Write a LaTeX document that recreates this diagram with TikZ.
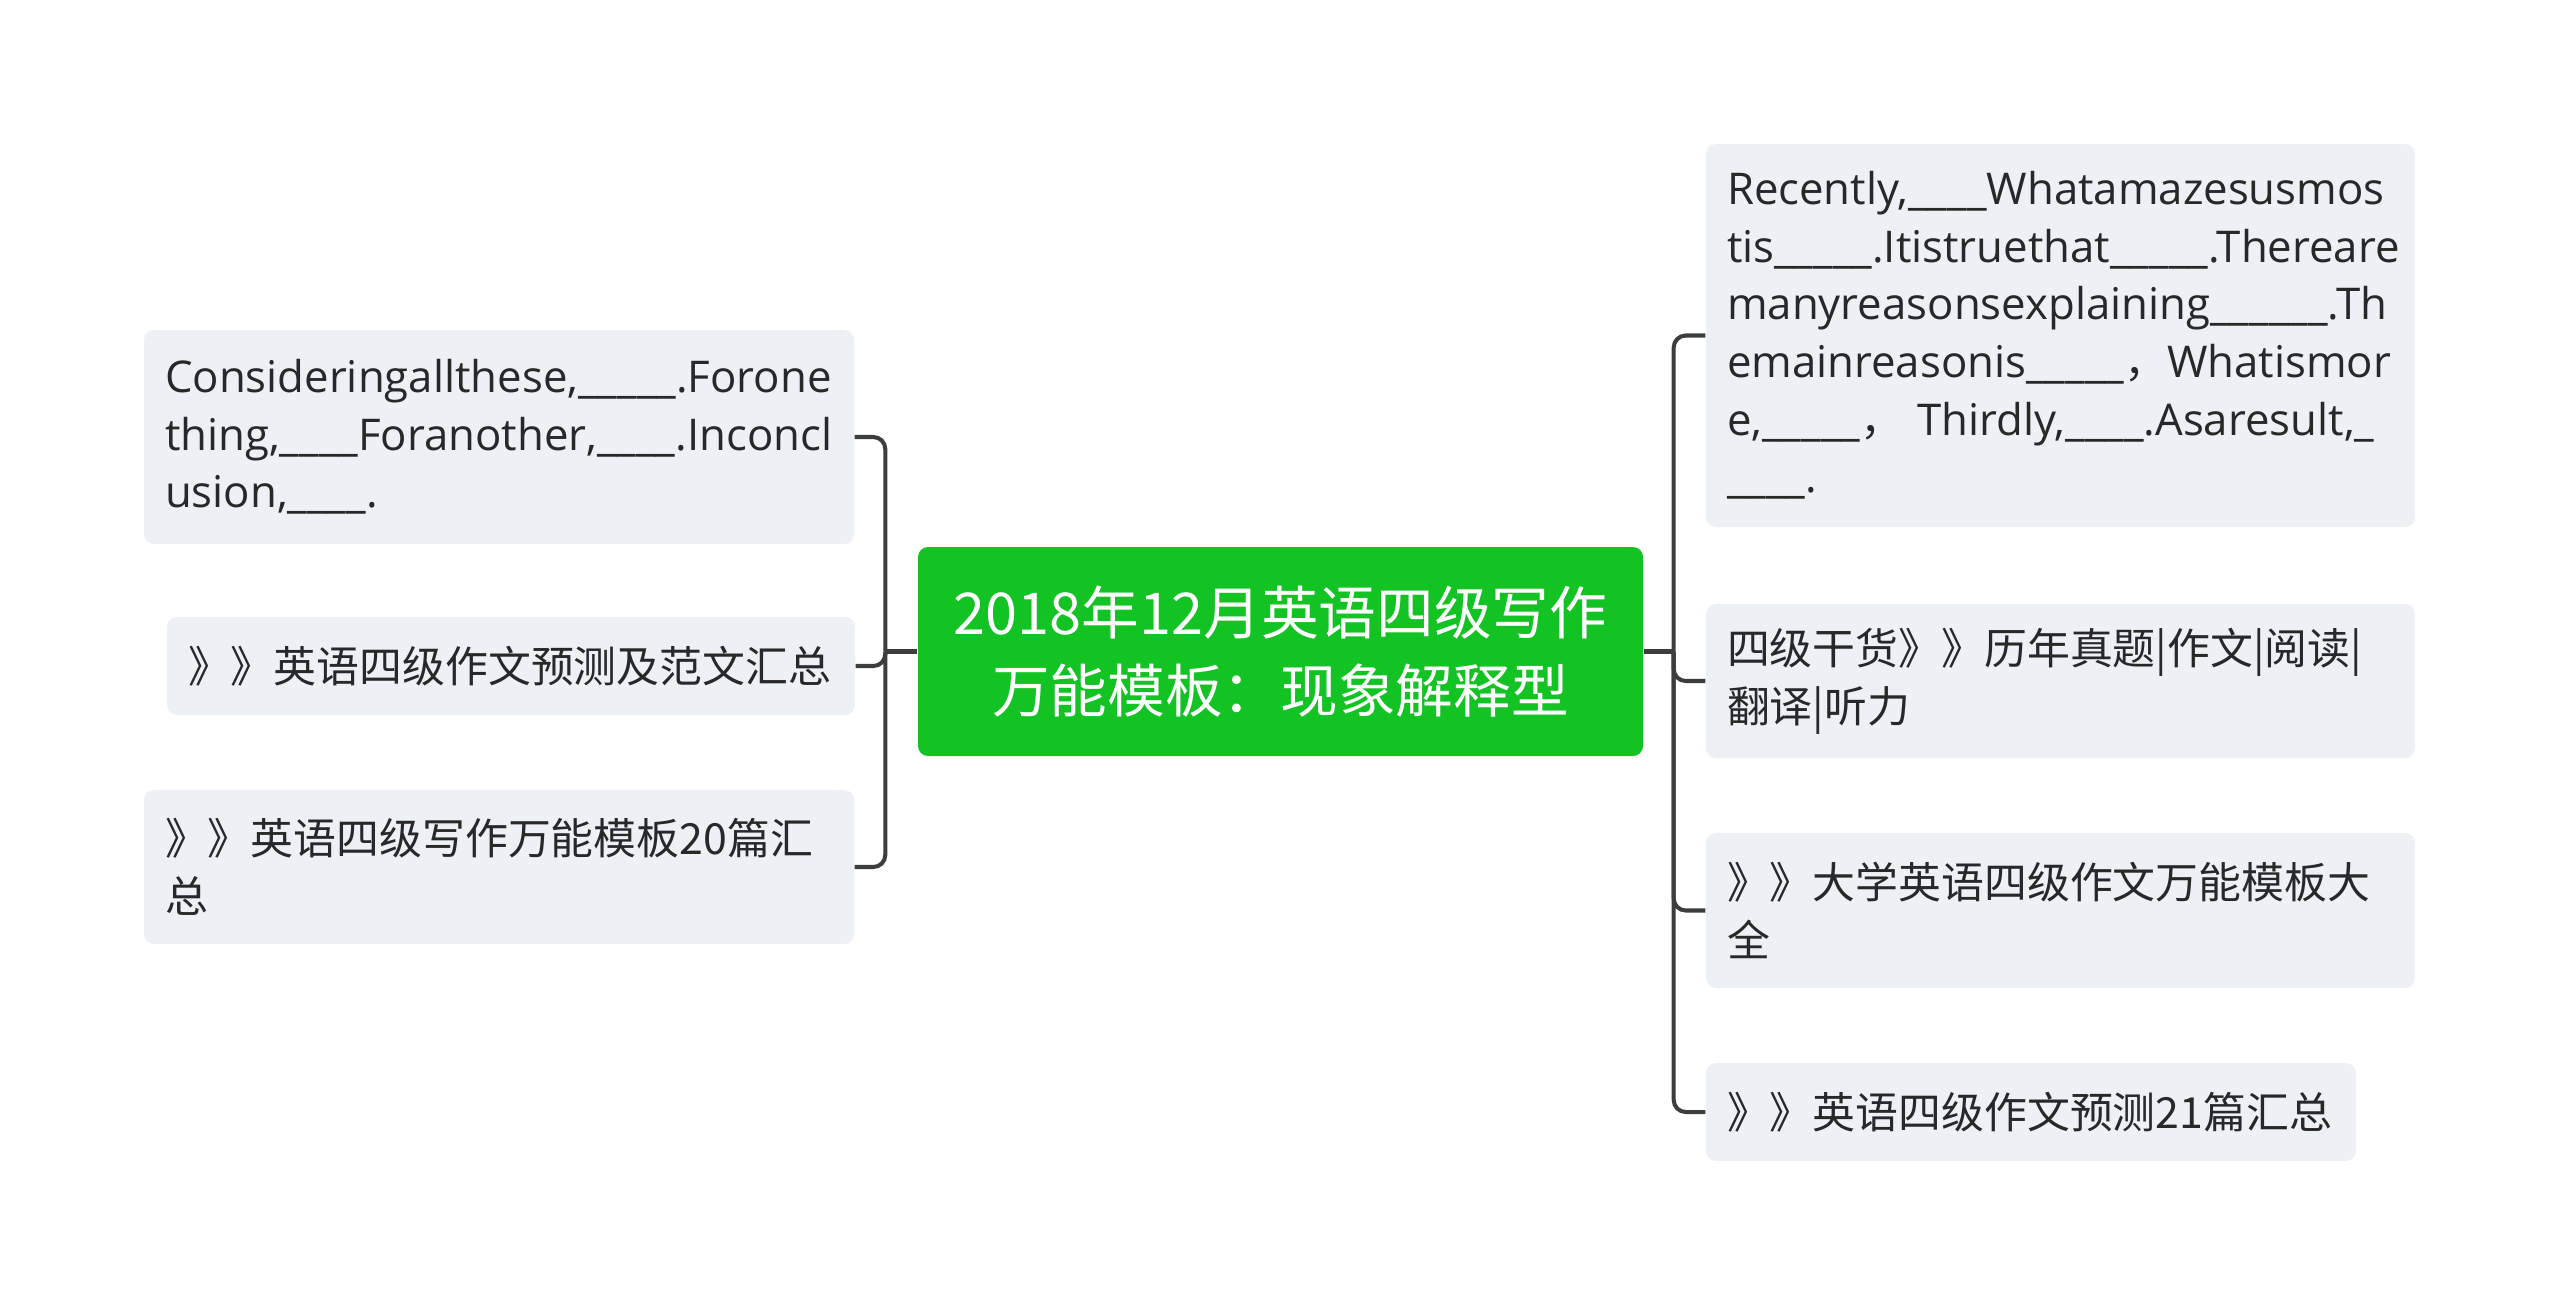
\documentclass[tikz,border=0pt]{standalone}
\usepackage{fontspec}
\setmainfont{Noto Sans CJK SC}
\newfontfamily\latin[Scale=1.02]{Open Sans}
\usetikzlibrary{positioning}

\definecolor{topicgreen}{RGB}{19,194,35}
\definecolor{leafgray}{RGB}{237,240,244}
\definecolor{linkgray}{RGB}{60,62,60}
\definecolor{textgray}{RGB}{40,40,40}

\begin{document}
\begin{tikzpicture}[x=1cm, y=-1cm,
    leaf/.style={fill=leafgray, rounded corners=0.1cm, inner xsep=0.21cm, inner ysep=0pt,
        align=left, text=textgray, font=\fontsize{12.2}{16.4}\selectfont},
    topic/.style={fill=topicgreen, rounded corners=0.1cm, align=center, text=white,
        minimum width=7.25cm, minimum height=2.09cm, font=\fontsize{16.4}{22.2}\selectfont},
    link/.style={draw=linkgray, line width=1.15pt, rounded corners=0.12cm}]
    \useasboundingbox (0,0) rectangle (25.6,13.04);

    % central topic
    \node[topic] (ctr) at (12.805,6.515) {2018年12月英语四级写作\\万能模板：现象解释型};

    % left branch
    \node[leaf, text width=6.68cm, minimum height=2.14cm] (l1) at (4.99,4.37)
        {{\latin Consideringallthese,\_\_\_\_\_.Forone}\\{\latin thing,\_\_\_\_Foranother,\_\_\_\_.Inconcl}\\{\latin usion,\_\_\_\_.}};
    \node[leaf, text width=6.46cm, minimum height=0.98cm] (l2) at (5.11,6.66)
        {》》英语四级作文预测及范文汇总};
    \node[leaf, text width=6.68cm, minimum height=1.54cm] (l3) at (4.99,8.67)
        {》》英语四级写作万能模板20篇汇\\总};

    % right branch
    \node[leaf, text width=6.67cm, minimum height=3.83cm] (r1) at (20.605,3.355)
        {{\latin Recently,\_\_\_\_Whatamazesusmos}\\{\latin tis\_\_\_\_\_.Itistruethat\_\_\_\_\_.Thereare}\\{\latin manyreasonsexplaining\_\_\_\_\_\_.Th}\\{\latin emainreasonis\_\_\_\_\_}，{\latin Whatismor}\\{\latin e,\_\_\_\_\_}，\ {\latin Thirdly,\_\_\_\_.Asaresult,\_}\\{\latin \_\_\_\_.}};
    \node[leaf, text width=6.67cm, minimum height=1.54cm] (r2) at (20.605,6.81)
        {四级干货》》历年真题|作文|阅读|\\翻译|听力};
    \node[leaf, text width=6.67cm, minimum height=1.55cm] (r3) at (20.605,9.105)
        {》》大学英语四级作文万能模板大\\全};
    \node[leaf, text width=6.08cm, minimum height=0.98cm] (r4) at (20.31,11.12)
        {》》英语四级作文预测21篇汇总};

    % connectors
    \coordinate[left=0.32cm of ctr.west] (ljoin);
    \coordinate[right=0.30cm of ctr.east] (rjoin);
    \draw[link] (ctr.west) -- (ljoin);
    \draw[link] (ctr.east) -- (rjoin);
    \foreach \n in {l1,l2,l3}
        \draw[link] (ljoin) |- (\n.east);
    \foreach \n in {r1,r2,r3,r4}
        \draw[link] (rjoin) |- (\n.west);
\end{tikzpicture}
\end{document}
